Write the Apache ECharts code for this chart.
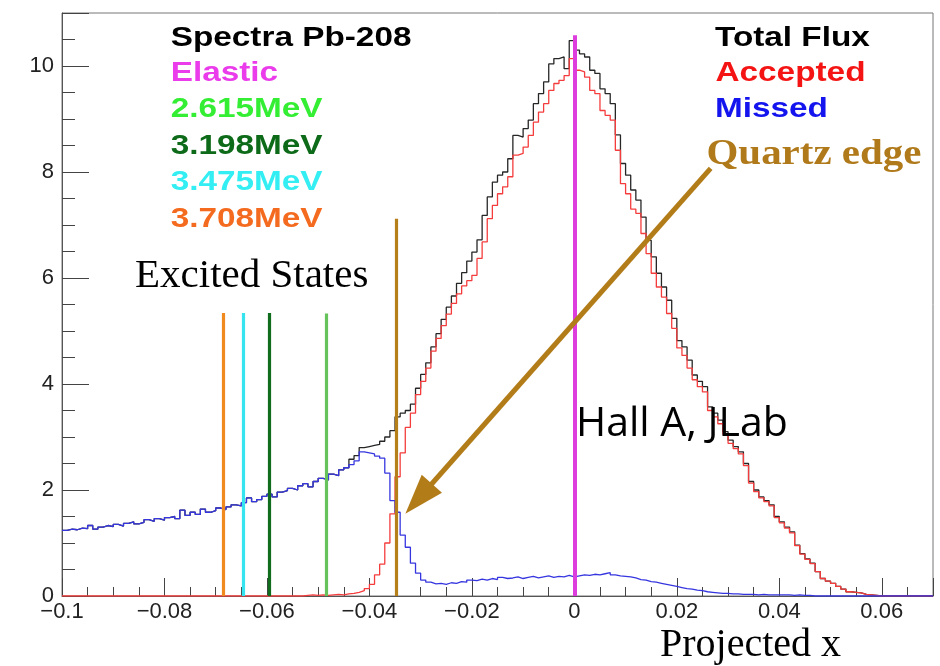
<!DOCTYPE html>
<html>
<head>
<meta charset="utf-8">
<script src="https://cdn.jsdelivr.net/npm/echarts@6/dist/echarts.min.js"></script>
<style>
html, body { margin: 0; padding: 0; background: #fff; }
#main { width: 940px; height: 666px; }
</style>
</head>
<body>
<div id="main"></div>
<script>
// histogram binning (projected x)
var binLow = -0.1;
var binWidth = 0.001;

// Total Flux (black)
var totalFlux = [
  1.24,1.26,1.25,1.28,1.27,1.33,1.26,1.30,1.33,1.31,
  1.35,1.32,1.37,1.40,1.36,1.39,1.44,1.41,1.46,1.43,
  1.48,1.50,1.46,1.62,1.52,1.58,1.54,1.64,1.58,1.61,
  1.66,1.63,1.68,1.72,1.70,1.76,1.85,1.78,1.82,1.88,
  1.92,1.87,1.96,1.99,2.03,2.00,2.08,2.12,2.06,2.16,
  2.22,2.19,2.30,2.27,2.38,2.42,2.58,2.65,2.80,2.82,
  2.84,2.86,2.92,3.00,3.12,3.38,3.45,3.50,3.62,3.92,
  4.18,4.40,4.70,4.95,5.22,5.45,5.66,5.90,6.10,6.32,
  6.49,6.72,7.18,7.53,7.81,7.94,8.00,8.25,8.69,8.66,
  8.82,8.98,9.29,9.48,9.70,10.04,10.14,10.17,9.95,10.48,
  10.30,10.23,10.17,9.92,9.86,9.57,9.48,9.29,8.70,8.16,
  7.94,7.66,7.47,7.15,6.71,6.40,6.09,5.83,5.58,5.24,
  4.82,4.70,4.45,4.17,4.05,3.95,3.57,3.45,3.32,3.10,
  2.94,2.82,2.72,2.50,2.16,2.00,1.87,1.80,1.72,1.50,
  1.40,1.30,1.21,0.96,0.80,0.70,0.62,0.46,0.33,0.28,
  0.24,0.18,0.13,0.08,0.07,0.06,0.03,0.02,0.01,0,
  0,0,0,0,0,0,0,0,0,0
];

// Accepted (red)
var accepted = [
  0,0,0,0,0,0,0,0,0,0,
  0,0,0,0,0,0,0,0,0,0,
  0,0,0,0,0,0,0,0,0,0,
  0,0,0,0,0,0,0,0,0,0,
  0,0,0,0,0,0,0,0.01,0.02,0.01,
  0.02,0.01,0.02,0.03,0.02,0.04,0.05,0.07,0.10,0.14,
  0.22,0.40,0.60,1.00,1.55,2.25,2.70,3.18,3.45,3.80,
  4.05,4.30,4.62,4.86,5.10,5.32,5.52,5.70,5.85,5.95,
  6.05,6.37,6.68,7.12,7.37,7.59,7.72,7.91,8.32,8.35,
  8.47,8.69,8.94,9.13,9.29,9.54,9.67,9.73,9.82,10.14,
  9.92,9.89,9.79,9.54,9.48,9.16,9.07,8.98,8.41,7.78,
  7.59,7.30,7.22,6.84,6.46,6.09,5.83,5.64,5.33,5.05,
  4.68,4.54,4.30,4.08,3.95,3.85,3.50,3.38,3.25,3.05,
  2.88,2.78,2.68,2.46,2.13,1.97,1.85,1.78,1.70,1.48,
  1.38,1.28,1.19,0.95,0.79,0.69,0.61,0.46,0.33,0.28,
  0.24,0.18,0.13,0.08,0.07,0.06,0.03,0.02,0.01,0,
  0,0,0,0,0,0,0,0,0,0
];

// Missed (blue)
var missed = [
  1.24,1.26,1.25,1.28,1.27,1.33,1.26,1.30,1.33,1.31,
  1.35,1.32,1.37,1.40,1.36,1.39,1.44,1.41,1.46,1.43,
  1.48,1.50,1.46,1.62,1.52,1.58,1.54,1.64,1.58,1.61,
  1.66,1.63,1.68,1.72,1.70,1.76,1.85,1.78,1.82,1.88,
  1.92,1.87,1.96,1.99,2.03,2.00,2.08,2.12,2.06,2.16,
  2.22,2.19,2.30,2.27,2.38,2.42,2.48,2.55,2.72,2.70,
  2.68,2.64,2.60,2.32,1.80,1.58,1.15,0.92,0.62,0.43,
  0.30,0.26,0.23,0.24,0.22,0.25,0.24,0.27,0.26,0.30,
  0.29,0.32,0.30,0.33,0.31,0.35,0.33,0.34,0.36,0.33,
  0.35,0.37,0.34,0.36,0.38,0.35,0.37,0.36,0.39,0.36,
  0.38,0.40,0.39,0.41,0.40,0.42,0.44,0.40,0.38,0.37,
  0.36,0.34,0.31,0.30,0.27,0.26,0.24,0.22,0.20,0.18,
  0.16,0.14,0.13,0.11,0.10,0.08,0.07,0.06,0.05,0.05,
  0.04,0.04,0.03,0.03,0.03,0.02,0.03,0.02,0.02,0.02,
  0.02,0.02,0.01,0.02,0.01,0.01,0,0,0,0,
  0,0,0,0,0,0,0,0,0,0,
  0,0,0,0,0,0,0,0,0,0
];

// elastic / excited state lines and the quartz edge
var stateNames = ['Elastic', '2.615MeV', '3.198MeV', '3.475MeV', '3.708MeV', 'Quartz edge'];
var stateX = [0, -0.0485, -0.0595, -0.0646, -0.0686, -0.0348];
var stateTop = [10.58, 5.33, 5.34, 5.34, 5.34, 7.12];
var lineColors = ['#dc3ddc', '#66c25a', '#0f6d1d', '#35e4ee', '#f08a1e', '#b5801a'];

// arrow pointing at the quartz edge (data coords)
var arrowFrom = [0.0266, 8.07];
var arrowTo = [-0.0304, 1.835];

function histData(vals) {
  var d = [];
  for (var i = 0; i < vals.length; i++) {
    d.push([binLow + i * binWidth, vals[i]]);
  }
  d.push([binLow + vals.length * binWidth, vals[vals.length - 1]]);
  return d;
}

var chart = echarts.init(document.getElementById('main'));

var stateLines = [];
for (var k = 0; k < stateX.length; k++) {
  stateLines.push([
    { coord: [stateX[k], 0], lineStyle: { color: lineColors[k], width: k === 0 ? 4 : 3.2, type: 'solid' } },
    { coord: [stateX[k], stateTop[k]] }
  ]);
}

function tickLabel(v) {
  var s = String(Math.round(v * 1000) / 1000);
  return s.replace('-', '\u2212');
}

function legendText(x, y, text, color, bold, size, family, sx) {
  return {
    type: 'text',
    x: x, y: y, scaleX: sx || 1,
    z: 100,
    style: {
      text: text,
      fill: color,
      font: (bold ? 'bold ' : '') + size + 'px ' + family,
      verticalAlign: 'middle',
      textVerticalAlign: 'middle',
      textAlign: 'left'
    }
  };
}

var sans = '"Liberation Sans", Arial, sans-serif';
var serif = '"Liberation Serif", "Times New Roman", serif';

var option = {
  animation: false,
  backgroundColor: '#fff',
  grid: {
    left: 62, top: 13, width: 871, height: 583,
    show: true, borderColor: '#777', borderWidth: 1, backgroundColor: 'transparent'
  },
  xAxis: {
    type: 'value',
    min: -0.1, max: 0.07, interval: 0.02,
    axisLine: { show: true, onZero: false, lineStyle: { color: '#555', width: 1 } },
    axisTick: { show: true, inside: true, length: 18, lineStyle: { color: '#444' } },
    minorTick: { show: true, splitNumber: 4, length: 9, lineStyle: { color: '#444' } },
    splitLine: { show: false },
    axisLabel: {
      formatter: tickLabel, showMaxLabel: false,
      color: '#222', fontSize: 22, fontFamily: sans, margin: 5
    }
  },
  yAxis: {
    type: 'value',
    min: 0, max: 11, interval: 2,
    axisLine: { show: true, onZero: false, lineStyle: { color: '#555', width: 1 } },
    axisTick: { show: true, inside: true, length: 27, lineStyle: { color: '#444' } },
    minorTick: { show: true, splitNumber: 4, length: 13, lineStyle: { color: '#444' } },
    splitLine: { show: false },
    axisLabel: {
      formatter: tickLabel, showMaxLabel: false,
      color: '#222', fontSize: 22, fontFamily: sans, margin: 8
    }
  },
  series: [
    {
      name: 'Total Flux', type: 'line', step: 'end', symbol: 'none',
      data: histData(totalFlux),
      lineStyle: { color: '#262626', width: 1.3 }, z: 2
    },
    {
      name: 'Accepted', type: 'line', step: 'end', symbol: 'none',
      data: histData(accepted),
      lineStyle: { color: '#f53c3c', width: 1.3 }, z: 3
    },
    {
      name: 'Missed', type: 'line', step: 'end', symbol: 'none',
      data: histData(missed),
      lineStyle: { color: '#3636e0', width: 1.3 }, z: 4,
      markLine: {
        silent: true, symbol: ['none', 'none'], animation: false,
        label: { show: false },
        data: stateLines
      }
    },
    {
      name: 'arrow', type: 'line', data: [], z: 6,
      markLine: {
        silent: true, animation: false,
        symbol: ['none', 'triangle'], symbolSize: [27, 40],
        label: { show: false },
        lineStyle: { color: '#b27c18', width: 5, type: 'solid' },
        itemStyle: { color: '#b27c18' },
        data: [[{ coord: arrowFrom }, { coord: arrowTo }]]
      }
    }
  ],
  graphic: [
    legendText(170.7, 38.3, 'Spectra Pb-208', '#000', true, 28, sans, 1.19),
    legendText(170.7, 73.6, stateNames[0], '#ea3cea', true, 28, sans, 1.19),
    legendText(170.7, 109.6, stateNames[1], '#33ee33', true, 28, sans, 1.19),
    legendText(170.7, 145.8, stateNames[2], '#0c6a18', true, 28, sans, 1.19),
    legendText(170.7, 182, stateNames[3], '#33eef2', true, 28, sans, 1.19),
    legendText(170.7, 219, stateNames[4], '#f46a1e', true, 28, sans, 1.19),
    legendText(715, 38.3, 'Total Flux', '#000', true, 28, sans, 1.19),
    legendText(715.5, 73.6, 'Accepted', '#f51414', true, 28, sans, 1.19),
    legendText(715, 109.6, 'Missed', '#1414ee', true, 28, sans, 1.19),
    legendText(706.5, 154.5, stateNames[5], '#b07a1a', true, 35, serif, 1.17),
    legendText(135, 276.5, 'Excited States', '#000', false, 41, serif, 1),
    legendText(576, 424.5, 'Hall A, JLab', '#000', false, 41, '"Open Sans", "Noto Sans", sans-serif', 1),
    legendText(660, 645, 'Projected x', '#000', false, 40, serif, 1)
  ]
};

chart.setOption(option);
</script>
</body>
</html>
